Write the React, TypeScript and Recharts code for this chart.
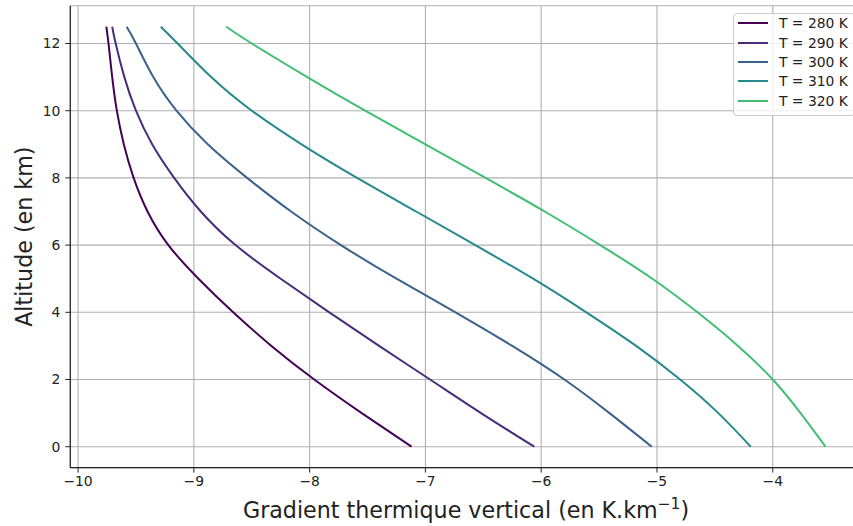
import React from 'react';
import { LineChart, Line, XAxis, YAxis, CartesianGrid, Legend } from 'recharts';

// Altitude (km) sampled for every curve
const altitudes = [0, 1, 2, 3, 4, 5, 6, 7, 8, 9, 10, 11, 12, 12.5];

// Vertical temperature gradient (K/km) for each surface temperature
const gradient280 = [-7.12, -7.55, -7.96, -8.33, -8.66, -8.96, -9.22, -9.4, -9.52, -9.605, -9.665, -9.705, -9.737, -9.756];
const gradient290 = [-6.06, -6.52, -6.96, -7.4, -7.83, -8.25, -8.64, -8.94, -9.17, -9.36, -9.5, -9.6, -9.675, -9.705];
const gradient300 = [-5.045, -5.41, -5.8, -6.25, -6.74, -7.25, -7.73, -8.16, -8.54, -8.88, -9.15, -9.35, -9.5, -9.58];
const gradient310 = [-4.19, -4.47, -4.8, -5.18, -5.61, -6.07, -6.57, -7.08, -7.59, -8.07, -8.5, -8.85, -9.14, -9.285];
const gradient320 = [-3.544, -3.76, -4.0, -4.3, -4.65, -5.04, -5.49, -5.97, -6.48, -7.0, -7.52, -8.02, -8.5, -8.72];

const seriesNames = ['T = 280 K', 'T = 290 K', 'T = 300 K', 'T = 310 K', 'T = 320 K'];
const seriesColors = ['#440154', '#472d7b', '#3b618d', '#26898b', '#42be74'];

const xTicks = [-10, -9, -8, -7, -6, -5, -4];
const yTicks = [0, 2, 4, 6, 8, 10, 12];
const xDomain = [-10.067, -3.231];
const yDomain = [-0.625, 13.125];

const gradients = [gradient280, gradient290, gradient300, gradient310, gradient320];
const series = gradients.map((g, i) => ({
  name: seriesNames[i],
  color: seriesColors[i],
  data: altitudes.map((z, j) => ({ x: g[j], z })),
}));

const FONT = 'DejaVu Sans';
const TEXT = '#222222';

const fmt = (v: number) => (v < 0 ? `\u2212${Math.abs(v)}` : `${v}`);

const renderLegend = (props: any) => {
  const payload = props.payload || [];
  return (
    <div
      style={{
        width: 122,
        height: 103,
        boxSizing: 'border-box',
        border: '1px solid #cccccc',
        borderRadius: 4,
        background: 'rgba(255,255,255,0.8)',
        position: 'relative',
        fontFamily: FONT,
        fontSize: 13.9,
        color: TEXT,
      }}
    >
      {payload.map((p: any, i: number) => (
        <div
          key={i}
          style={{
            position: 'absolute',
            left: 4,
            top: 10.6 + 19.35 * i - 9 - 1,
            height: 18,
            display: 'flex',
            alignItems: 'center',
          }}
        >
          <div style={{ width: 30.6, height: 2, background: p.color }} />
          <span style={{ marginLeft: 10.7, whiteSpace: 'nowrap', lineHeight: '18px' }}>{p.value}</span>
        </div>
      ))}
    </div>
  );
};

const XLabel = (props: any) => {
  const vb = props.viewBox || { x: 0, y: 0, width: 0 };
  return (
    <text x={vb.x + vb.width / 2} y={vb.y + 50.3} textAnchor="middle" fontSize={22.2} fontFamily={FONT} fill={TEXT}>
      Gradient thermique vertical (en K.km
      <tspan dy={-9} fontSize={15.5}>{'\u22121'}</tspan>
      <tspan dy={9}>)</tspan>
    </text>
  );
};

const YLabel = (props: any) => {
  const vb = props.viewBox || { x: 0, y: 0, height: 0 };
  const cx = vb.x + 21.4;
  const cy = vb.y + vb.height / 2;
  return (
    <text x={cx} y={cy} transform={`rotate(-90 ${cx} ${cy})`} textAnchor="middle" fontSize={22.2} fontFamily={FONT} fill={TEXT}>
      Altitude (en km)
    </text>
  );
};

export default function App() {
  return (
    <div style={{ position: 'absolute', left: 0, top: 0, width: 853, height: 526, overflow: 'hidden', background: '#fff' }}>
      <LineChart width={870} height={526} margin={{ top: 5.7, right: 8.2, bottom: 8.3, left: 10.3 }}>
        <CartesianGrid stroke="#b0b0b0" strokeWidth={1.1} />
        <XAxis
          type="number"
          dataKey="x"
          domain={xDomain}
          ticks={xTicks}
          allowDataOverflow
          height={50}
          tickFormatter={fmt}
          tick={{ fontSize: 13.9, fill: TEXT, fontFamily: FONT }}
          tickSize={4.9}
          tickMargin={4}
          tickLine={{ stroke: '#222' }}
          axisLine={{ stroke: '#222', strokeWidth: 1.2 }}
          label={XLabel}
        />
        <XAxis
          xAxisId="top"
          orientation="top"
          type="number"
          domain={xDomain}
          allowDataOverflow
          height={0}
          tick={false}
          tickLine={false}
          axisLine={{ stroke: '#222', strokeWidth: 1.2 }}
        />
        <YAxis
          type="number"
          dataKey="z"
          domain={yDomain}
          ticks={yTicks}
          allowDataOverflow
          width={60}
          tickFormatter={fmt}
          tick={{ fontSize: 13.9, fill: TEXT, fontFamily: FONT }}
          tickSize={4.9}
          tickMargin={5}
          tickLine={{ stroke: '#222' }}
          axisLine={{ stroke: '#222', strokeWidth: 1.2 }}
          label={YLabel}
        />
        {series.map((s) => (
          <Line
            key={s.name}
            data={s.data}
            dataKey="z"
            name={s.name}
            type="natural"
            stroke={s.color}
            strokeWidth={2}
            dot={false}
            activeDot={false}
            isAnimationActive={false}
          />
        ))}
        <Legend
          layout="vertical"
          align="center"
          verticalAlign="middle"
          content={renderLegend}
          wrapperStyle={{ left: 732.7, top: 12.7, width: 122, height: 103 }}
        />
      </LineChart>
    </div>
  );
}
